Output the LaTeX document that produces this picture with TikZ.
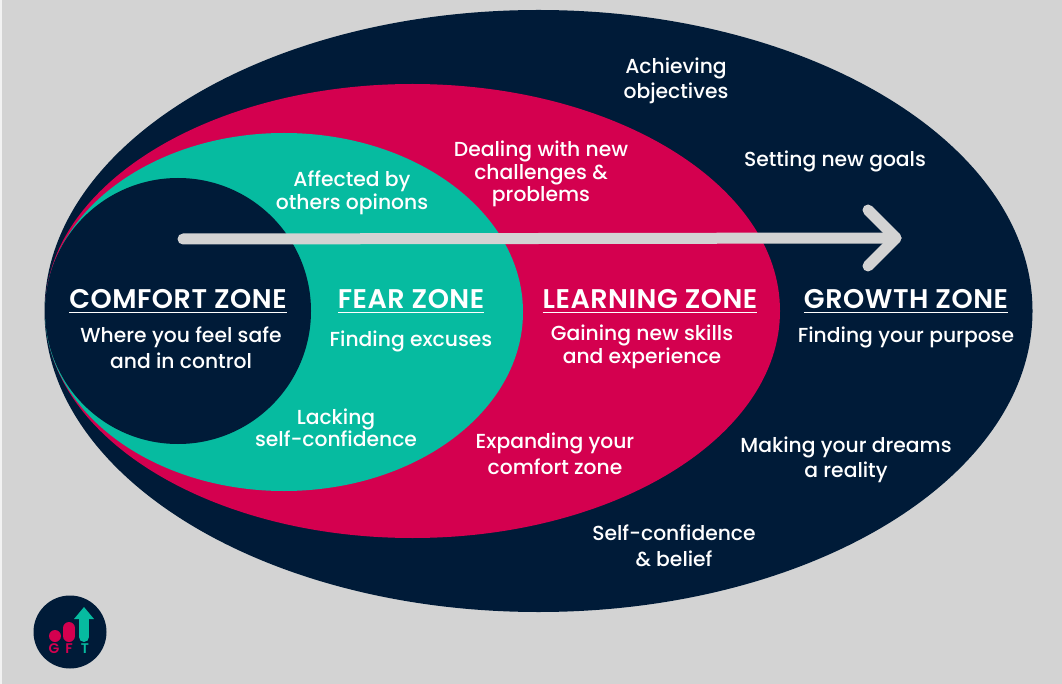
\documentclass[tikz,border=0pt]{standalone}
\usepackage{fontspec}
\setmainfont{Poppins Medium}
\newfontface\ttlface[LetterSpace=2]{Poppins SemiBold}
\definecolor{navy}{HTML}{001B38}
\definecolor{crim}{HTML}{D4004F}
\definecolor{teal2}{HTML}{06BBA0}
\definecolor{bg}{HTML}{D3D3D3}
\tikzset{
  lbl/.style={text=white,align=center,font=\fontsize{20.3}{25.5}\selectfont,inner sep=0pt},
  lbltight/.style={lbl,font=\fontsize{20.3}{22.5}\selectfont},
  ttl/.style={text=white,align=center,font=\ttlface\fontsize{27}{30}\selectfont,inner sep=0pt,outer sep=0pt,text height=19pt,text depth=0pt},
  uline/.style={draw=white,line width=1.5pt},
  bigarrow/.style={draw=bg,line width=11pt,line cap=round,line join=round},
  logobar/.style={line width=12pt,line cap=round},
  logotxt/.style={font=\fontsize{14}{14}\selectfont\fontspec{Poppins SemiBold},inner sep=0pt}
}
\begin{document}
\begin{tikzpicture}[x=1pt,y=-1pt]
\useasboundingbox (0,0) rectangle (1062,684);
\fill[bg] (0,0) rectangle (1062,684);
\fill[white!70!bg] (0,0) rectangle (2,684);
\fill[navy] (538.5,311) ellipse [x radius=494,y radius=301];
\fill[crim] (412.5,311) ellipse [x radius=367.5,y radius=227];
\fill[teal2] (284,312) ellipse [x radius=239,y radius=179];
\fill[navy] (178,311) circle [radius=133];
\coordinate (as) at (183,239);
\coordinate (at) at (896,238);
\coordinate (a1) at (868,210);
\coordinate (a2) at (868,266);
\draw[bigarrow] (as) -- (at);
\draw[bigarrow] (a1) -- (at) -- (a2);

\node[ttl] (t1) at (178,299) {COMFORT ZONE};
\node[ttl] (t2) at (411,299) {FEAR ZONE};
\node[ttl] (t3) at (650,299) {LEARNING ZONE};
\node[ttl] (t4) at (906,299) {GROWTH ZONE};
\draw[uline] ([yshift=-4pt]t1.south west) -- ([yshift=-4pt]t1.south east);
\draw[uline] ([yshift=-4pt]t2.south west) -- ([yshift=-4pt]t2.south east);
\draw[uline] ([yshift=-4pt]t3.south west) -- ([yshift=-4pt]t3.south east);
\draw[uline] ([yshift=-4pt]t4.south west) -- ([yshift=-4pt]t4.south east);

\node[lbl] (n1) at (181,348) {Where you feel safe\\and in control};
\node[lbl] (n2) at (411,341) {Finding excuses};
\node[lbltight] (n3) at (642,347) {Gaining new skills\\and experience};
\node[lbl] (n4) at (906,337) {Finding your purpose};
\node[lbl] (n5) at (676,81) {Achieving\\objectives};
\node[lbl] (n6) at (835,161) {Setting new goals};
\node[lbltight] (n7) at (541,174) {Dealing with new\\challenges \&\\problems};
\node[lbltight] (n8) at (352,193) {Affected by\\others opinons};
\node[lbltight] (n9) at (336,428) {Lacking\\self-confidence};
\node[lbl] (n10) at (555,454) {Expanding your\\comfort zone};
\node[lbl] (n11) at (846,460) {Making your dreams\\a reality};
\node[lbl] (n12) at (674,546) {Self-confidence\\\& belief};

% logo
\fill[navy] (70,632) circle [radius=36.5];
\fill[crim] (55,636) circle [radius=6];
\draw[logobar,crim] (69,628) -- (69,636);
\draw[logobar,teal2,line width=10pt] (84,618) -- (84,637);
\fill[teal2] (84,607) -- (94,619) -- (74,619) -- cycle;
\node[logotxt,text=crim] (lg) at (54,649) {G};
\node[logotxt,text=crim] (lf) at (69,649) {F};
\node[logotxt,text=teal2] (lt) at (85,649) {T};
\end{tikzpicture}
\end{document}
